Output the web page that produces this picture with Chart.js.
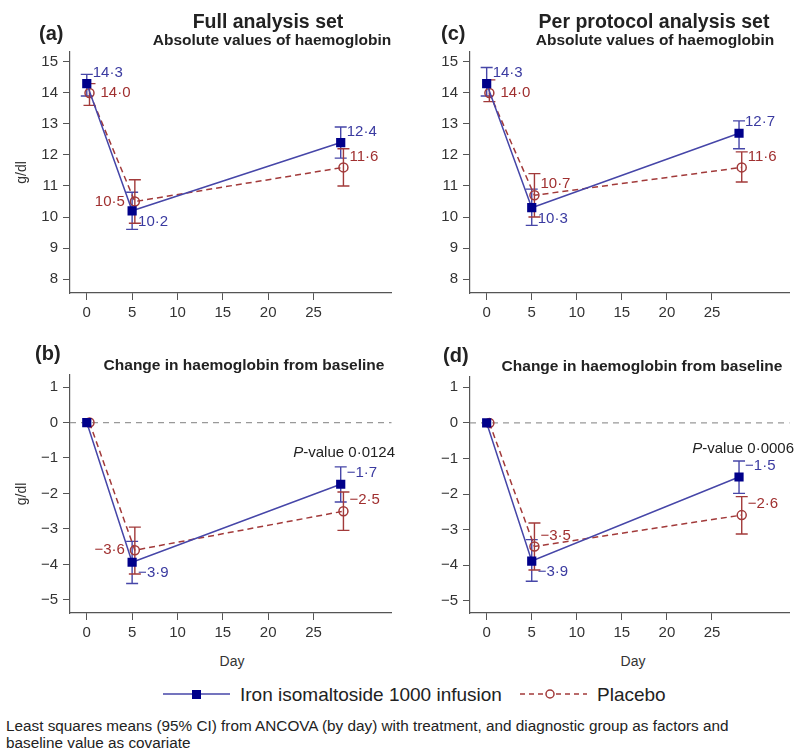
<!DOCTYPE html>
<html>
<head>
<meta charset="utf-8">
<script src="https://cdn.jsdelivr.net/npm/chart.js@4.4.1/dist/chart.umd.min.js"></script>
<style>
body { margin: 0; background: #fff; font-family: "Liberation Sans", Arial, sans-serif; }
#wrap { position: relative; width: 796px; height: 749px; overflow: hidden; }
canvas { position: absolute; }
.t { position: absolute; white-space: nowrap; color: #222; line-height: 1; }
.c { transform: translate(-50%, -50%); }
.l { transform: translate(0, -50%); }
.r { transform: translate(-100%, -50%); }
.b { font-weight: bold; }
</style>
</head>
<body>
<div id="wrap">
  <canvas id="pa" width="398" height="330" style="left:0;top:0"></canvas>
  <canvas id="pc" width="398" height="330" style="left:398px;top:0"></canvas>
  <canvas id="pb" width="398" height="320" style="left:0;top:330px"></canvas>
  <canvas id="pd" width="398" height="320" style="left:398px;top:330px"></canvas>

  <div class="t l b" style="left:39px;top:33px;font-size:20px">(a)</div>
  <div class="t c b" style="left:268px;top:22px;font-size:19.5px">Full analysis set</div>
  <div class="t c b" style="left:272px;top:40px;font-size:15.5px">Absolute values of haemoglobin</div>
  <div class="t l b" style="left:441px;top:33px;font-size:20px">(c)</div>
  <div class="t c b" style="left:654px;top:22px;font-size:19.5px">Per protocol analysis set</div>
  <div class="t c b" style="left:655px;top:40px;font-size:15.5px">Absolute values of haemoglobin</div>
  <div class="t l b" style="left:35px;top:353px;font-size:20px">(b)</div>
  <div class="t c b" style="left:244px;top:365px;font-size:15.5px">Change in haemoglobin from baseline</div>
  <div class="t l b" style="left:443px;top:355px;font-size:20px">(d)</div>
  <div class="t c b" style="left:642px;top:366px;font-size:15.5px">Change in haemoglobin from baseline</div>

  <div class="t r" style="left:395px;top:451px;font-size:15px"><i>P</i>-value 0·0124</div>
  <div class="t r" style="left:794px;top:447px;font-size:15px"><i>P</i>-value 0·0006</div>

  <div class="t c" style="left:232px;top:661px;font-size:14px;color:#333">Day</div>
  <div class="t c" style="left:633px;top:661px;font-size:14px;color:#333">Day</div>

  <svg style="position:absolute;left:0;top:680px" width="796" height="28">
    <line x1="163" y1="14" x2="230" y2="14" stroke="#4646a8" stroke-width="1.5"/>
    <rect x="192" y="10" width="9" height="9" fill="#00008a"/>
    <line x1="520" y1="14" x2="587" y2="14" stroke="#a23a3a" stroke-width="1.5" stroke-dasharray="5,4"/>
    <circle cx="550" cy="14" r="4" fill="#fff" stroke="#a23a3a" stroke-width="1.5"/>
  </svg>
  <div class="t l" style="left:240px;top:694px;font-size:19px">Iron isomaltoside 1000 infusion</div>
  <div class="t l" style="left:597px;top:694px;font-size:19px">Placebo</div>

  <div class="t l" style="left:6px;top:726px;font-size:15.3px">Least squares means (95% CI) from ANCOVA (by day) with treatment, and diagnostic group as factors and</div>
  <div class="t l" style="left:6px;top:743px;font-size:15.3px">baseline value as covariate</div>
</div>

<script>
// x positions (days); placebo is drawn slightly offset to the right
const days = [0, 5, 28];
const placeboDays = [0.3, 5.3, 28.3];
const dayTicks = [0, 5, 10, 15, 20, 25];
const absTicks = [8, 9, 10, 11, 12, 13, 14, 15];
const changeTicks = [-5, -4, -3, -2, -1, 0, 1];

// (a) full analysis set, absolute haemoglobin (g/dl)
const fasAbsIron = [14.3, 10.2, 12.4];
const fasAbsIronLo = [13.9, 9.6, 11.9];
const fasAbsIronHi = [14.6, 10.8, 12.9];
const fasAbsPlac = [14.0, 10.5, 11.6];
const fasAbsPlacLo = [13.6, 9.8, 11.0];
const fasAbsPlacHi = [14.3, 11.2, 12.2];

// (b) full analysis set, change from baseline
const fasChgIron = [0, -3.94, -1.74];
const fasChgIronLo = [0, -4.54, -2.24];
const fasChgIronHi = [0, -3.35, -1.25];
const fasChgPlac = [0, -3.6, -2.5];
const fasChgPlacLo = [0, -4.27, -3.04];
const fasChgPlacHi = [0, -2.95, -1.96];

// (c) per protocol, absolute
const ppAbsIron = [14.3, 10.3, 12.7];
const ppAbsIronLo = [13.9, 9.73, 12.2];
const ppAbsIronHi = [14.82, 10.9, 13.1];
const ppAbsPlac = [14.0, 10.7, 11.6];
const ppAbsPlacLo = [13.72, 10.0, 11.13];
const ppAbsPlacHi = [14.42, 11.4, 12.1];

// (d) per protocol, change from baseline
const ppChgIron = [0, -3.88, -1.52];
const ppChgIronLo = [0, -4.45, -1.98];
const ppChgIronHi = [0, -3.28, -1.07];
const ppChgPlac = [0, -3.47, -2.59];
const ppChgPlacLo = [0, -4.13, -3.12];
const ppChgPlacHi = [0, -2.81, -2.07];

const BLUE = '#4646a8';
const NAVY = '#00008a';
const RED = '#a23a3a';

function fmt(v) {
    return v.toFixed(1).replace('.', '\u00b7').replace('-', '\u2212');
}
function pts(xs, ys) {
    return xs.map((x, i) => ({ x: x, y: ys[i] }));
}

const errorBars = {
    id: 'errorBars',
    beforeDatasetsDraw(chart) {
        const ctx = chart.ctx, xs = chart.scales.x, ys = chart.scales.y;
        chart.data.datasets.forEach(ds => {
            ctx.save();
            ctx.strokeStyle = ds.barColor;
            ctx.lineWidth = 1.4;
            ds.data.forEach((p, i) => {
                if (ds.lo[i] === ds.hi[i]) return;
                const x = xs.getPixelForValue(p.x);
                const y1 = ys.getPixelForValue(ds.lo[i]);
                const y2 = ys.getPixelForValue(ds.hi[i]);
                ctx.beginPath();
                ctx.moveTo(x, y1); ctx.lineTo(x, y2);
                ctx.moveTo(x - 6, y1); ctx.lineTo(x + 6, y1);
                ctx.moveTo(x - 6, y2); ctx.lineTo(x + 6, y2);
                ctx.stroke();
            });
            ctx.restore();
        });
    }
};

const zeroLine = {
    id: 'zeroLine',
    beforeDatasetsDraw(chart, args, opts) {
        if (!opts.show) return;
        const ctx = chart.ctx, a = chart.chartArea;
        const y = chart.scales.y.getPixelForValue(0);
        ctx.save();
        ctx.strokeStyle = '#999';
        ctx.lineWidth = 1.2;
        ctx.setLineDash([6, 5]);
        ctx.beginPath();
        ctx.moveTo(a.left, y); ctx.lineTo(a.right, y);
        ctx.stroke();
        ctx.restore();
    }
};

const valueLabels = {
    id: 'valueLabels',
    afterDatasetsDraw(chart) {
        const ctx = chart.ctx, xs = chart.scales.x, ys = chart.scales.y;
        ctx.save();
        ctx.font = '15px "Liberation Sans", Arial, sans-serif';
        ctx.textBaseline = 'middle';
        chart.data.datasets.forEach(ds => {
            ctx.fillStyle = ds.textColor;
            ds.data.forEach((p, i) => {
                const pos = ds.labelPos[i];
                if (!pos) return;
                const x = xs.getPixelForValue(p.x), y = ys.getPixelForValue(p.y);
                const s = fmt(p.y);
                if (pos === 'ne') { ctx.textAlign = 'left'; ctx.fillText(s, x + 6, y - 11); }
                if (pos === 'se') { ctx.textAlign = 'left'; ctx.fillText(s, x + 6, y + 11); }
                if (pos === 'e') { ctx.textAlign = 'left'; ctx.fillText(s, x + 11, y); }
                if (pos === 'w') { ctx.textAlign = 'right'; ctx.fillText(s, x - 10, y); }
            });
        });
        ctx.restore();
    }
};

function makePanel(id, p) {
    return new Chart(document.getElementById(id), {
        type: 'scatter',
        data: {
            datasets: [{
                label: 'Iron isomaltoside 1000 infusion',
                data: pts(days, p.iron),
                lo: p.ironLo, hi: p.ironHi,
                labelPos: p.ironPos,
                showLine: true,
                borderColor: BLUE,
                borderWidth: 1.5,
                pointStyle: 'rect',
                pointRadius: 6.5,
                pointBackgroundColor: NAVY,
                pointBorderColor: NAVY,
                pointBorderWidth: 0,
                barColor: BLUE,
                textColor: '#3a3aa0'
            }, {
                label: 'Placebo',
                data: pts(placeboDays, p.plac),
                lo: p.placLo, hi: p.placHi,
                labelPos: p.placPos,
                showLine: true,
                borderColor: RED,
                borderWidth: 1.5,
                borderDash: [6, 4],
                pointStyle: 'circle',
                pointRadius: 4.5,
                pointBackgroundColor: 'rgba(0,0,0,0)',
                pointBorderColor: RED,
                pointBorderWidth: 1.5,
                barColor: RED,
                textColor: '#a03030'
            }]
        },
        options: {
            responsive: false,
            animation: false,
            events: [],
            layout: { padding: { top: p.top, right: p.right, bottom: 7, left: 0 } },
            plugins: {
                legend: { display: false },
                tooltip: { enabled: false },
                zeroLine: { show: p.zero }
            },
            scales: {
                x: {
                    type: 'linear',
                    min: -1.85, max: 33.6,
                    afterBuildTicks: s => { s.ticks = dayTicks.map(v => ({ value: v })); },
                    afterFit: s => { s.height = 30; },
                    grid: { drawOnChartArea: false, tickLength: 7, color: '#555' },
                    border: { color: '#555', width: 1.2 },
                    ticks: { font: { size: 15 }, color: '#333', padding: 4 }
                },
                y: {
                    min: p.ymin, max: p.ymax,
                    afterBuildTicks: s => { s.ticks = p.ticks.map(v => ({ value: v })); },
                    afterFit: s => { s.width = p.yw; },
                    grid: { drawOnChartArea: false, tickLength: 7, color: '#555' },
                    border: { color: '#555', width: 1.2 },
                    ticks: {
                        font: { size: 15 }, color: '#333', padding: 5,
                        callback: v => String(v).replace('-', '\u2212')
                    },
                    title: {
                        display: p.ytitle, text: 'g/dl', color: '#333',
                        font: { size: 14 }, padding: { top: 14, bottom: 0 }
                    }
                }
            }
        },
        plugins: [errorBars, zeroLine, valueLabels]
    });
}

makePanel('pa', {
    iron: fasAbsIron, ironLo: fasAbsIronLo, ironHi: fasAbsIronHi, ironPos: ['ne', 'se', 'ne'],
    plac: fasAbsPlac, placLo: fasAbsPlacLo, placHi: fasAbsPlacHi, placPos: ['e', 'w', 'ne'],
    ymin: 7.55, ymax: 15.32, ticks: absTicks, top: 52, right: 1, yw: 70, ytitle: true, zero: false
});
makePanel('pc', {
    iron: ppAbsIron, ironLo: ppAbsIronLo, ironHi: ppAbsIronHi, ironPos: ['ne', 'se', 'ne'],
    plac: ppAbsPlac, placLo: ppAbsPlacLo, placHi: ppAbsPlacHi, placPos: ['e', 'ne', 'ne'],
    ymin: 7.55, ymax: 15.32, ticks: absTicks, top: 52, right: 0, yw: 72, ytitle: false, zero: false
});
makePanel('pb', {
    iron: fasChgIron, ironLo: fasChgIronLo, ironHi: fasChgIronHi, ironPos: [null, 'se', 'ne'],
    plac: fasChgPlac, placLo: fasChgPlacLo, placHi: fasChgPlacHi, placPos: [null, 'w', 'ne'],
    ymin: -5.37, ymax: 1.34, ticks: changeTicks, top: 45, right: 1, yw: 70, ytitle: true, zero: true
});
makePanel('pd', {
    iron: ppChgIron, ironLo: ppChgIronLo, ironHi: ppChgIronHi, ironPos: [null, 'se', 'ne'],
    plac: ppChgPlac, placLo: ppChgPlacLo, placHi: ppChgPlacHi, placPos: [null, 'ne', 'ne'],
    ymin: -5.34, ymax: 1.29, ticks: changeTicks, top: 47, right: 0, yw: 72, ytitle: false, zero: true
});
</script>
</body>
</html>
